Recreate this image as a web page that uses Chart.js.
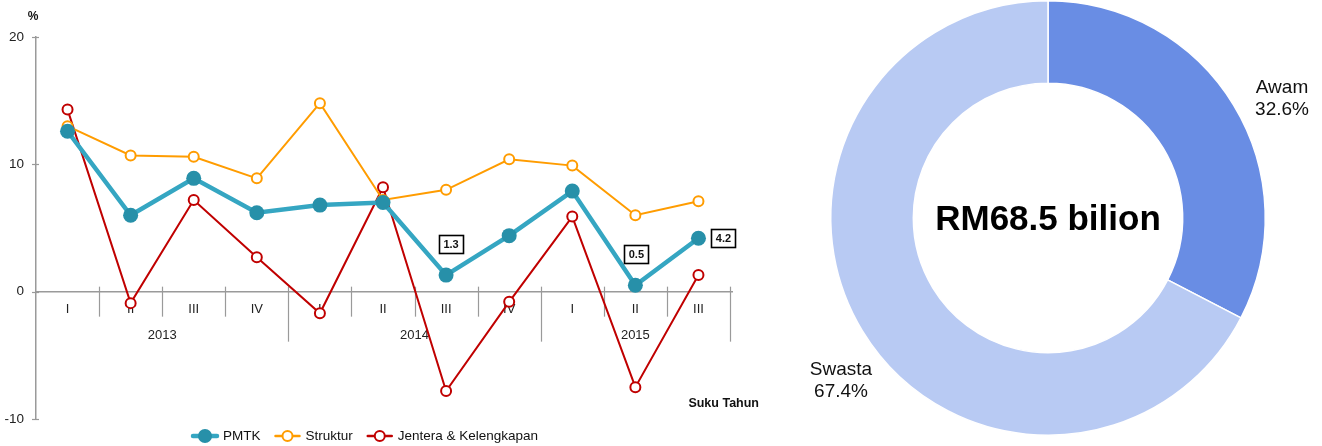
<!DOCTYPE html>
<html><head><meta charset="utf-8">
<script src="https://cdn.jsdelivr.net/npm/chart.js@4.4.1/dist/chart.umd.min.js"></script>
<style>
html,body{margin:0;padding:0;background:#fff;}
#wrap{position:relative;width:1322px;height:446px;overflow:hidden;}
#lineBox{position:absolute;left:0;top:0;width:770px;height:446px;}
#pieBox{position:absolute;left:770px;top:0;width:552px;height:446px;}
canvas{display:block;}
</style></head><body>
<div id="wrap">
<div id="lineBox"><canvas id="line" width="770" height="446"></canvas></div>
<div id="pieBox"><canvas id="pie" width="552" height="446"></canvas></div>
</div>
<script>
// ---- data ----
const quarters = ['I','II','III','IV','I','II','III','IV','I','II','III'];
const years = ['2013','2014','2015'];
const quartersPerYear = [4,4,3];
const pmtk = [12.6,6.0,8.9,6.2,6.8,7.0,1.3,4.4,7.9,0.5,4.2];
const struktur = [13.0,10.7,10.6,8.9,14.8,7.2,8.0,10.4,9.9,6.0,7.1];
const jentera = [14.3,-0.9,7.2,2.7,-1.7,8.2,-7.8,-0.8,5.9,-7.5,1.3];
const labelledPoints = [6,9,10];
const yTicks = [-10,0,10,20];
const seriesNames = ['PMTK','Struktur','Jentera & Kelengkapan'];
const yUnit = '%';
const xTitle = 'Suku Tahun';
const shareLabels = ['Awam','Swasta'];
const shareValues = [32.6,67.4];
const totalLabel = 'RM68.5 bilion';

const FONT = '"Liberation Sans", Arial, Helvetica, sans-serif';
const C_PMTK = '#35a6c2', C_PMTK_PT = '#2790a9';
const C_STR = '#ff9c00', C_JEN = '#c00000';

// ---- line chart plugin: category axis, years, labels, legend ----
const lineDecor = {
  id: 'lineDecor',
  beforeDatasetsDraw(chart) {
    const ctx = chart.ctx, xs = chart.scales.x, ys = chart.scales.y, ca = chart.chartArea;
    const y0 = ys.getPixelForValue(0);
    const half = (xs.getPixelForValue(1) - xs.getPixelForValue(0)) / 2;
    ctx.save();
    ctx.strokeStyle = '#9a9a9a';
    ctx.lineWidth = 1.5;
    ctx.beginPath(); ctx.moveTo(ca.left, y0); ctx.lineTo(ca.right + 3, y0); ctx.stroke();
    // small y ticks crossing the axis
    ctx.lineWidth = 1.2;
    yTicks.forEach(v => {
      const ty = Math.round(ys.getPixelForValue(v)) + 0.5;
      ctx.beginPath(); ctx.moveTo(ca.left - 4, ty); ctx.lineTo(ca.left + 3, ty); ctx.stroke();
    });
    // boundaries
    const starts = [0]; quartersPerYear.reduce((a, c) => { starts.push(a + c); return a + c; }, 0);
    for (let i = 1; i <= quarters.length; i++) {
      const bx = Math.round(xs.getPixelForValue(i - 1) + half) + 0.5;
      const isYear = starts.includes(i);
      ctx.beginPath(); ctx.moveTo(bx, y0 - 5); ctx.lineTo(bx, y0 + (isYear ? 50 : 25)); ctx.stroke();
    }
    // quarter labels
    ctx.fillStyle = '#222';
    ctx.font = '13px ' + FONT;
    ctx.textAlign = 'center'; ctx.textBaseline = 'middle';
    quarters.forEach((q, i) => ctx.fillText(q, xs.getPixelForValue(i), y0 + 18));
    // years
    years.forEach((yr, k) => {
      const a = xs.getPixelForValue(starts[k]) - half;
      const b = xs.getPixelForValue(starts[k + 1] - 1) + half;
      ctx.fillText(yr, (a + b) / 2, y0 + 44);
    });
    ctx.restore();
  },
  afterDatasetsDraw(chart) {
    const ctx = chart.ctx, xs = chart.scales.x, ys = chart.scales.y;
    ctx.save();
    ctx.font = 'bold 11px ' + FONT;
    ctx.textAlign = 'center'; ctx.textBaseline = 'middle';
    labelledPoints.forEach(i => {
      const px = xs.getPixelForValue(i), py = ys.getPixelForValue(pmtk[i]);
      const txt = pmtk[i].toFixed(1);
      const w = ctx.measureText(txt).width + 9, h = 18;
      let cx, cy;
      if (i === pmtk.length - 1) { cx = px + 25; cy = py; }
      else { cx = px + (i === 6 ? 5 : 1); cy = py - 31; }
      ctx.fillStyle = '#fff';
      ctx.fillRect(cx - w / 2, cy - h / 2, w, h);
      ctx.strokeStyle = '#000'; ctx.lineWidth = 1.6;
      ctx.strokeRect(Math.round(cx - w / 2) + 0.5, Math.round(cy - h / 2) + 0.5, Math.round(w), h);
      ctx.fillStyle = '#111';
      ctx.fillText(txt, cx, cy + 0.5);
    });
    ctx.restore();
  },
  afterDraw(chart) {
    const ctx = chart.ctx;
    ctx.save();
    // unit and x title
    ctx.fillStyle = '#111';
    ctx.font = 'bold 12px ' + FONT;
    ctx.textAlign = 'center'; ctx.textBaseline = 'alphabetic';
    ctx.fillText(yUnit, 33, 20);
    ctx.font = 'bold 12.5px ' + FONT;
    ctx.textAlign = 'right';
    ctx.fillText(xTitle, 759, 407);
    // legend
    const ly = 436;
    ctx.font = '13.5px ' + FONT;
    ctx.textAlign = 'left'; ctx.textBaseline = 'middle';
    const styles = [
      { c: C_PMTK, pc: C_PMTK_PT, lw: 4.5, r: 7, fill: true },
      { c: C_STR, pc: C_STR, lw: 2.5, r: 5, fill: false },
      { c: C_JEN, pc: C_JEN, lw: 2.5, r: 5, fill: false }
    ];
    let x = 192;
    seriesNames.forEach((name, k) => {
      const s = styles[k];
      ctx.strokeStyle = s.c; ctx.lineWidth = s.lw; ctx.lineCap = 'round';
      ctx.beginPath(); ctx.moveTo(x + 1, ly); ctx.lineTo(x + 25, ly); ctx.stroke();
      ctx.beginPath(); ctx.arc(x + 13, ly, s.r, 0, Math.PI * 2);
      if (s.fill) { ctx.fillStyle = s.pc; ctx.fill(); }
      else { ctx.fillStyle = '#fff'; ctx.fill(); ctx.lineWidth = 2; ctx.strokeStyle = s.pc; ctx.stroke(); }
      ctx.fillStyle = '#111';
      ctx.fillText(name, x + 31, ly);
      x += 31 + ctx.measureText(name).width + 14;
    });
    ctx.restore();
  }
};

new Chart(document.getElementById('line'), {
  type: 'line',
  data: {
    labels: quarters,
    datasets: [
      { label: seriesNames[0], data: pmtk, borderColor: C_PMTK, borderWidth: 4.5,
        pointRadius: 7.5, pointBackgroundColor: C_PMTK_PT, pointBorderColor: C_PMTK_PT, pointBorderWidth: 0,
        tension: 0, fill: false },
      { label: seriesNames[1], data: struktur, borderColor: C_STR, borderWidth: 2,
        pointRadius: 5, pointBackgroundColor: '#fff', pointBorderColor: C_STR, pointBorderWidth: 2,
        tension: 0, fill: false },
      { label: seriesNames[2], data: jentera, borderColor: C_JEN, borderWidth: 2,
        pointRadius: 5, pointBackgroundColor: '#fff', pointBorderColor: C_JEN, pointBorderWidth: 2,
        tension: 0, fill: false }
    ]
  },
  options: {
    responsive: false,
    animation: false,
    events: [],
    layout: { padding: { left: 0, top: 37, right: 40, bottom: 27 } },
    plugins: { legend: { display: false }, tooltip: { enabled: false } },
    scales: {
      x: { type: 'category', offset: true, display: false },
      y: {
        min: yTicks[0], max: yTicks[yTicks.length - 1],
        afterBuildTicks(s) { s.ticks = yTicks.map(v => ({ value: v })); },
        afterFit(s) { s.width = 36; },
        ticks: { color: '#222', font: { size: 13.5, family: FONT }, padding: 12 },
        grid: { drawOnChartArea: false, drawTicks: false, tickLength: 4 },
        border: { color: '#9a9a9a', width: 1.5 }
      }
    }
  },
  plugins: [lineDecor]
});

// ---- doughnut ----
const pieDecor = {
  id: 'pieDecor',
  afterDraw(chart) {
    const ctx = chart.ctx;
    const meta = chart.getDatasetMeta(0);
    const arc = meta.data[0];
    const cx = arc.x, cy = arc.y;
    ctx.save();
    ctx.fillStyle = '#000';
    ctx.font = 'bold 35px ' + FONT;
    ctx.textAlign = 'center'; ctx.textBaseline = 'middle';
    ctx.fillText(totalLabel, cx, cy + 2);
    ctx.font = '19px ' + FONT;
    ctx.fillStyle = '#111';
    ctx.textBaseline = 'alphabetic';
    const offs = [[234, -125], [-207, 157]];
    shareLabels.forEach((lab, i) => {
      const x = cx + offs[i][0], y = cy + offs[i][1];
      ctx.fillText(lab, x, y);
      ctx.fillText(shareValues[i].toFixed(1) + '%', x, y + 22);
    });
    ctx.restore();
  }
};

new Chart(document.getElementById('pie'), {
  type: 'doughnut',
  data: {
    labels: shareLabels,
    datasets: [{
      data: shareValues,
      backgroundColor: ['#698de4', '#b8caf3'],
      borderColor: '#ffffff',
      borderWidth: 1.5
    }]
  },
  options: {
    responsive: false,
    animation: false,
    events: [],
    cutout: '62%',
    rotation: 0,
    layout: { padding: { left: 60, right: 56, top: 0, bottom: 10 } },
    plugins: { legend: { display: false }, tooltip: { enabled: false } }
  },
  plugins: [pieDecor]
});
</script>
</body></html>
